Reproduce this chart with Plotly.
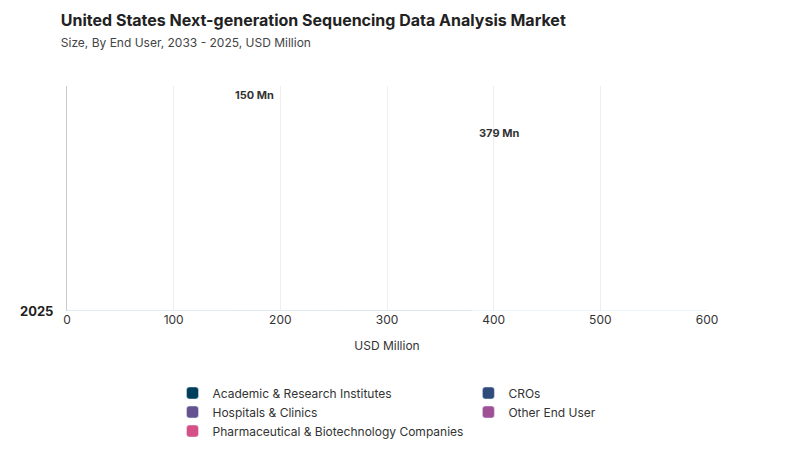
import plotly.graph_objects as go

years = ["2025", "2033"]
segments = ["Academic & Research Institutes", "CROs", "Hospitals & Clinics",
            "Other End User", "Pharmaceutical & Biotechnology Companies"]
values = {
    "Academic & Research Institutes": [150, 600],
    "CROs": [58, 257],
    "Hospitals & Clinics": [92, 379],
    "Other End User": [27, 128],
    "Pharmaceutical & Biotechnology Companies": [86, 370],
}
colors = ["#003f5c", "#2f4b7c", "#665191", "#a05195", "#d45087"]

fig = go.Figure()
# add in reverse so the first segment sits at the top of each group
for name, color in reversed(list(zip(segments, colors))):
    fig.add_trace(go.Bar(
        y=years, x=values[name], name=name, orientation="h",
        marker=dict(color=color, cornerradius=3),
    ))

fig.add_annotation(x=values["Hospitals & Clinics"][1], y="2033", yshift=0,
                   text="<b>379 Mn</b>", showarrow=False, xanchor="left", xshift=6,
                   font=dict(size=11, color="#333"))
fig.add_annotation(x=values["Academic & Research Institutes"][0], y="2025",
                   yshift=39, text="<b>150 Mn</b>", showarrow=False, xanchor="left",
                   xshift=6, font=dict(size=11, color="#333"))

fig.update_layout(
    width=800, height=450,
    font=dict(family="Inter", size=12, color="#333"),
    title=dict(text="<b>United States Next-generation Sequencing Data Analysis Market</b>"
                    "<br><span style='font-size:12px;color:#444'>Size, By End User, 2033 - 2025, USD Million</span>",
               x=0.066, y=0.96, yanchor="top", font=dict(size=16, color="#222")),
    barmode="group", bargap=0.2, bargroupgap=0.1,
    plot_bgcolor="white", paper_bgcolor="white",
    margin=dict(l=53, r=101, t=78, b=132),
    xaxis=dict(range=[0, 600], dtick=100, showgrid=True, gridcolor="#eee",
               title=dict(text="USD Million", font=dict(size=12)), zeroline=False,
               showline=False, ticks=""),
    yaxis=dict(type="category", categoryorder="array", categoryarray=years,
               showline=True, linecolor="#ccc",
               tickfont=dict(size=13, color="#222", weight="bold"),
               ticklabelstandoff=10),
    legend=dict(orientation="h", x=0.5, xanchor="center", y=-0.3, yanchor="top",
                traceorder="reversed", font=dict(size=12)),
)

fig.write_html("out.html")
